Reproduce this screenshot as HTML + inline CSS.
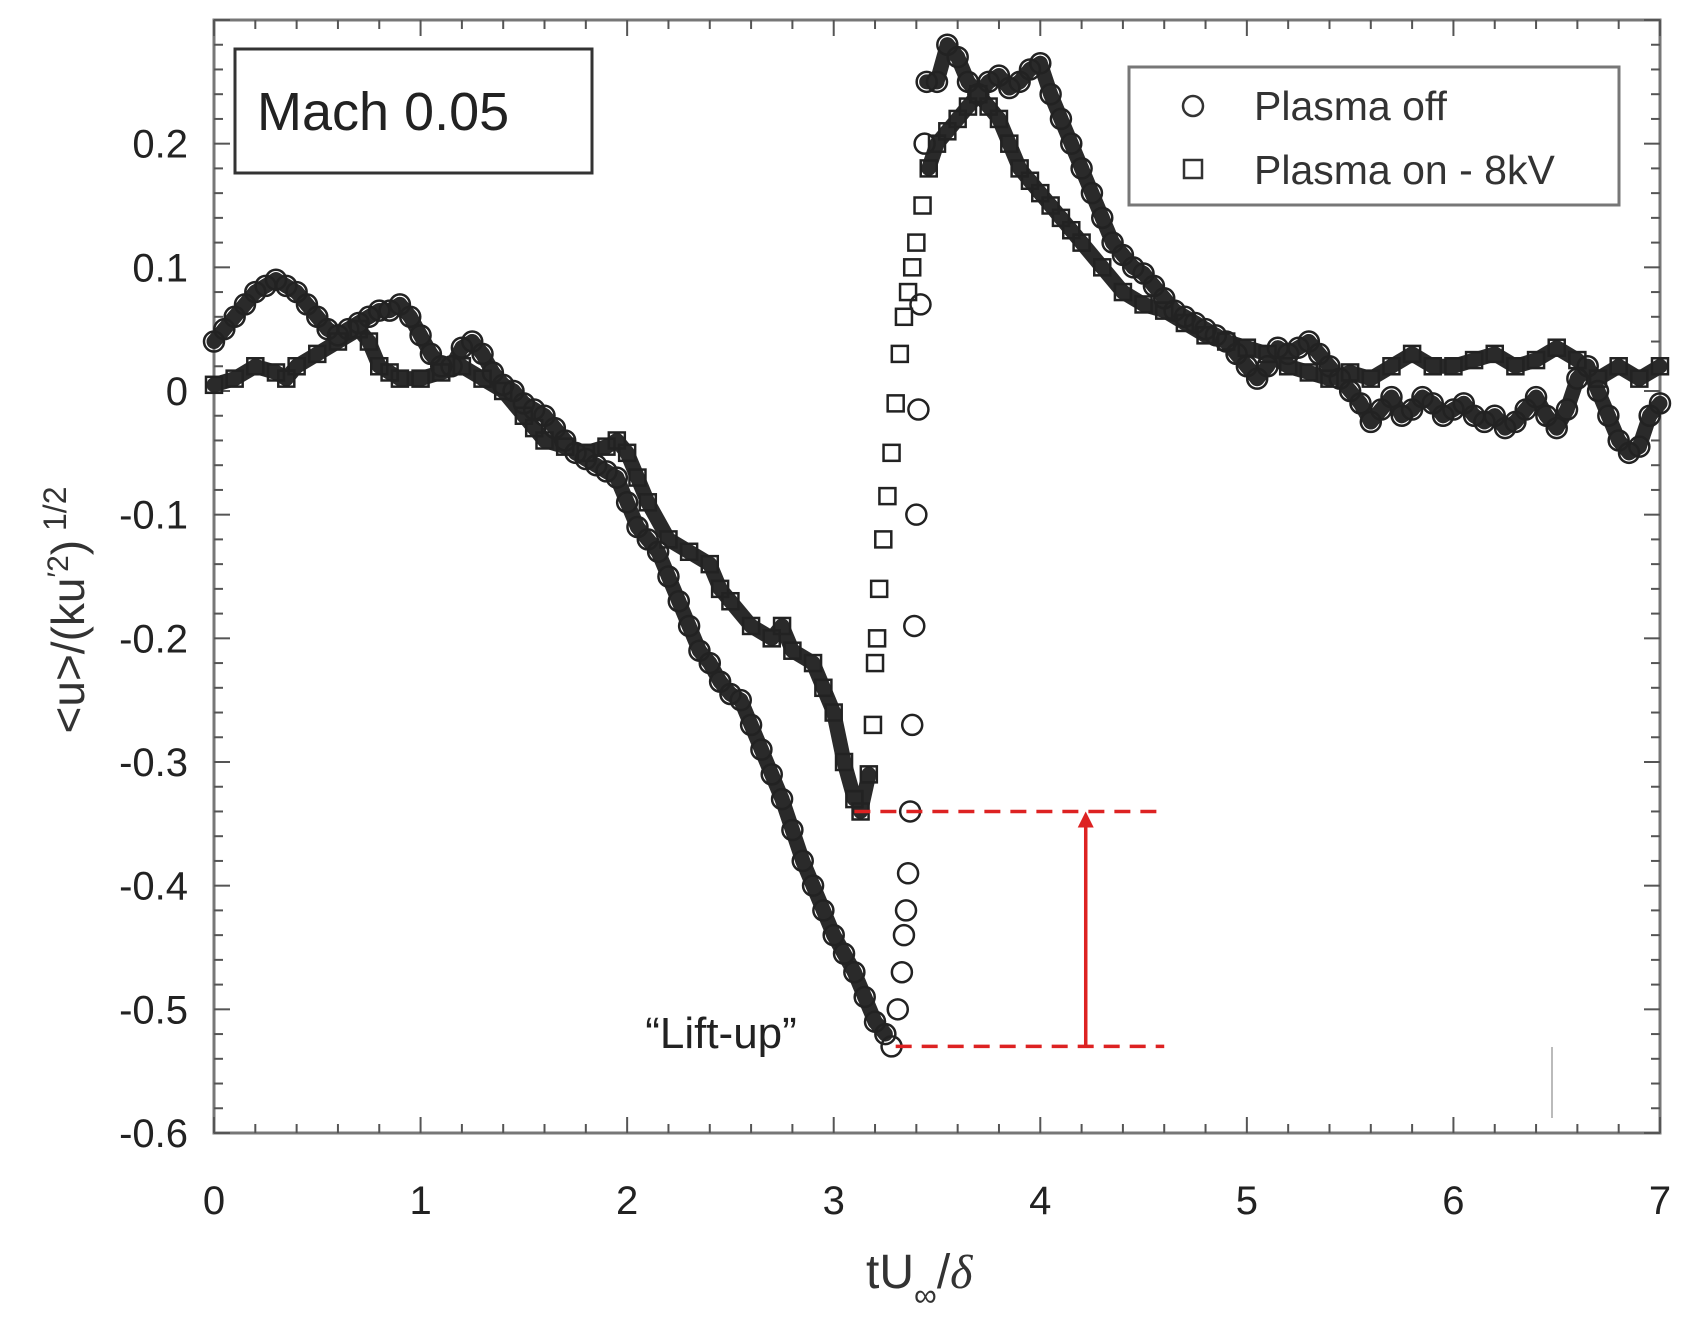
<!DOCTYPE html>
<html><head><meta charset="utf-8"><style>
body{margin:0;background:#fff}
svg{display:block;font-family:"Liberation Sans",Arial,sans-serif}
</style></head><body>
<svg id="chart" width="1687" height="1327"></svg>
<script>
const xTicks=[0,1,2,3,4,5,6,7];
const yTicks=[0.2,0.1,0,-0.1,-0.2,-0.3,-0.4,-0.5,-0.6];
const yTickLabels=["0.2","0.1","0","-0.1","-0.2","-0.3","-0.4","-0.5","-0.6"];
const offX=[0,0.05,0.1,0.15,0.2,0.25,0.3,0.35,0.4,0.45,0.5,0.55,0.6,0.65,0.7,0.75,0.8,0.85,0.9,0.95,1.0,1.05,1.1,1.15,1.2,1.25,1.3,1.35,1.4,1.45,1.5,1.55,1.6,1.65,1.7,1.75,1.8,1.85,1.9,1.95,2.0,2.05,2.1,2.15,2.2,2.25,2.3,2.35,2.4,2.45,2.5,2.55,2.6,2.65,2.7,2.75,2.8,2.85,2.9,2.95,3.0,3.05,3.1,3.15,3.2,3.25,3.28,3.31,3.33,3.34,3.35,3.36,3.37,3.38,3.39,3.4,3.41,3.42,3.44,3.45,3.5,3.55,3.6,3.65,3.7,3.75,3.8,3.85,3.9,3.95,4.0,4.05,4.1,4.15,4.2,4.25,4.3,4.35,4.4,4.45,4.5,4.55,4.6,4.65,4.7,4.75,4.8,4.85,4.9,4.95,5.0,5.05,5.1,5.15,5.2,5.25,5.3,5.35,5.4,5.45,5.5,5.55,5.6,5.65,5.7,5.75,5.8,5.85,5.9,5.95,6.0,6.05,6.1,6.15,6.2,6.25,6.3,6.35,6.4,6.45,6.5,6.55,6.6,6.65,6.7,6.75,6.8,6.85,6.9,6.95,7.0];
const offY=[0.04,0.05,0.06,0.07,0.08,0.085,0.09,0.085,0.08,0.07,0.06,0.05,0.045,0.05,0.055,0.06,0.065,0.065,0.07,0.06,0.045,0.03,0.02,0.02,0.035,0.04,0.03,0.015,0.005,0,-0.01,-0.015,-0.02,-0.03,-0.04,-0.05,-0.055,-0.06,-0.065,-0.07,-0.09,-0.11,-0.12,-0.13,-0.15,-0.17,-0.19,-0.21,-0.22,-0.235,-0.245,-0.25,-0.27,-0.29,-0.31,-0.33,-0.355,-0.38,-0.4,-0.42,-0.44,-0.455,-0.47,-0.49,-0.51,-0.52,-0.53,-0.5,-0.47,-0.44,-0.42,-0.39,-0.34,-0.27,-0.19,-0.1,-0.015,0.07,0.2,0.25,0.25,0.28,0.27,0.25,0.24,0.25,0.255,0.245,0.25,0.26,0.265,0.24,0.22,0.2,0.18,0.16,0.14,0.12,0.11,0.1,0.095,0.085,0.075,0.065,0.06,0.055,0.05,0.045,0.04,0.03,0.02,0.01,0.02,0.035,0.03,0.035,0.04,0.03,0.02,0.01,0,-0.01,-0.025,-0.015,-0.005,-0.02,-0.015,-0.005,-0.01,-0.02,-0.015,-0.01,-0.02,-0.025,-0.02,-0.03,-0.025,-0.015,-0.005,-0.02,-0.03,-0.015,0.01,0.02,0,-0.02,-0.04,-0.05,-0.045,-0.02,-0.01];
const onX=[0,0.1,0.2,0.3,0.35,0.4,0.5,0.6,0.7,0.75,0.8,0.85,0.9,1.0,1.1,1.2,1.3,1.4,1.5,1.55,1.6,1.7,1.8,1.9,1.95,2.0,2.05,2.1,2.2,2.3,2.4,2.45,2.5,2.6,2.7,2.75,2.8,2.9,2.95,3.0,3.05,3.1,3.13,3.17,3.19,3.2,3.21,3.22,3.24,3.26,3.28,3.3,3.32,3.34,3.36,3.38,3.4,3.43,3.46,3.5,3.55,3.6,3.65,3.7,3.75,3.8,3.85,3.9,3.95,4.0,4.05,4.1,4.15,4.2,4.3,4.4,4.5,4.6,4.7,4.8,4.9,5.0,5.1,5.2,5.3,5.4,5.5,5.6,5.7,5.8,5.9,6.0,6.1,6.2,6.3,6.4,6.5,6.6,6.7,6.8,6.9,7.0];
const onY=[0.005,0.01,0.02,0.015,0.01,0.02,0.03,0.04,0.05,0.04,0.02,0.015,0.01,0.01,0.015,0.02,0.01,0,-0.02,-0.03,-0.04,-0.045,-0.05,-0.045,-0.04,-0.05,-0.07,-0.09,-0.12,-0.13,-0.14,-0.16,-0.17,-0.19,-0.2,-0.19,-0.21,-0.22,-0.24,-0.26,-0.3,-0.33,-0.34,-0.31,-0.27,-0.22,-0.2,-0.16,-0.12,-0.085,-0.05,-0.01,0.03,0.06,0.08,0.1,0.12,0.15,0.18,0.2,0.21,0.22,0.23,0.24,0.23,0.22,0.2,0.18,0.17,0.16,0.15,0.14,0.13,0.12,0.1,0.08,0.07,0.065,0.055,0.045,0.04,0.035,0.03,0.02,0.015,0.01,0.015,0.01,0.02,0.03,0.02,0.02,0.025,0.03,0.02,0.025,0.035,0.025,0.01,0.02,0.01,0.02];

const L=214,R=1660,T=20,B=1133,xMin=0,xMax=7,yMin=-0.6,yMax=0.3;
const sx=v=>L+(v-xMin)/(xMax-xMin)*(R-L);
const sy=v=>B-(v-yMin)/(yMax-yMin)*(B-T);
const svg=document.getElementById('chart');
const NS='http://www.w3.org/2000/svg';
function mk(tag,at,parent){const e=document.createElementNS(NS,tag);for(const k in at)e.setAttribute(k,at[k]);(parent||svg).appendChild(e);return e;}

const frame=mk('rect',{x:L,y:T,width:R-L,height:B-T,fill:'none',stroke:'#777','stroke-width':3});


const tg=mk('g',{stroke:'#555','stroke-width':2});


for(let v=0;v<=7.0001;v+=0.2){const X=sx(v);const maj=Math.abs(v-Math.round(v))<1e-6;const len=maj?16:9;
 mk('line',{x1:X,y1:B,x2:X,y2:B-len},tg);mk('line',{x1:X,y1:T,x2:X,y2:T+len},tg);}
for(let i=0;i<=45;i++){const v=-0.6+i*0.02;const Y=sy(v);const maj=i%5===0;const len=maj?16:9;
 mk('line',{x1:L,y1:Y,x2:L+len,y2:Y},tg);mk('line',{x1:R,y1:Y,x2:R-len,y2:Y},tg);}
xTicks.forEach(v=>{const t=mk('text',{x:sx(v),y:1214,'font-size':40,'text-anchor':'middle',fill:'#222'});t.textContent=String(v);
 
 });
yTicks.forEach((v,i)=>{const t=mk('text',{x:188,y:sy(v)+14,'font-size':40,'text-anchor':'end',fill:'#222'});t.textContent=yTickLabels[i];
 
 });
const xt=mk('text',{x:866,y:1288,'font-size':48,fill:'#333'});


xt.innerHTML='tU<tspan font-size="32" dy="18">∞</tspan><tspan dy="-18">/</tspan><tspan font-family="Liberation Serif" font-style="italic">δ</tspan>';
const yt=mk('text',{x:0,y:0,'font-size':46,fill:'#333','text-anchor':'middle',transform:'translate(84,610) rotate(-90)'});


yt.innerHTML='&lt;u&gt;/(ku<tspan font-size="30" dy="-16">\u20322</tspan><tspan dy="16">)</tspan><tspan font-size="32" dy="-18"> 1/2</tspan>';

function band(xs,ys,name){const g=mk('g',{stroke:'#2a2a2a','stroke-width':15,'stroke-linecap':'round',fill:'none'});
 
 
 for(let i=1;i<xs.length;i++){if(xs[i]-xs[i-1]<0.035)continue;
  const x1=sx(xs[i-1]),x2=sx(xs[i]),y1=sy(ys[i-1]),y2=sy(ys[i]);
  if(i>=2&&xs[i-1]-xs[i-2]<0.035&&Math.abs(y2-y1)>60)continue;
  mk('line',{x1:x1,y1:y1,x2:x2,y2:y2},g);}}
band(onX,onY,'plasma-on-band');
band(offX,offY,'plasma-off-band');
const gOn=mk('g',{fill:'none',stroke:'#222','stroke-width':2.5});


onX.forEach((x,i)=>{const r=mk('rect',{x:sx(x)-8,y:sy(onY[i])-8,width:16,height:16},gOn);
 
 });
const gOff=mk('g',{fill:'none',stroke:'#222','stroke-width':2.5});


offX.forEach((x,i)=>{const c=mk('circle',{cx:sx(x),cy:sy(offY[i]),r:10},gOff);
 
 });

const ag=mk('g',{stroke:'#d22','stroke-width':3.5,fill:'none'});


mk('line',{x1:sx(3.1),y1:sy(-0.34),x2:sx(4.6),y2:sy(-0.34),'stroke-dasharray':'16 10'},ag);
mk('line',{x1:sx(3.3),y1:sy(-0.53),x2:sx(4.6),y2:sy(-0.53),'stroke-dasharray':'16 10'},ag);
mk('line',{x1:sx(4.22),y1:sy(-0.53),x2:sx(4.22),y2:sy(-0.34)+14},ag);
mk('polygon',{points:`${sx(4.22)-8},${sy(-0.34)+16} ${sx(4.22)+8},${sy(-0.34)+16} ${sx(4.22)},${sy(-0.34)}`,fill:'#d22',stroke:'none'},ag);
const lt=mk('text',{x:721,y:1048,'font-size':44,'text-anchor':'middle',fill:'#222'});lt.textContent='\u201cLift-up\u201d';


const gl=mk('line',{x1:1552,y1:1047,x2:1552,y2:1118,stroke:'#bbb','stroke-width':2});



const mb=mk('rect',{x:235,y:49,width:357,height:124,fill:'#fff',stroke:'#333','stroke-width':3});


const mt=mk('text',{x:257,y:130,'font-size':54,fill:'#222'});mt.textContent='Mach 0.05';


const lg=mk('g',{});


mk('rect',{x:1129,y:67,width:490,height:138,fill:'#fff',stroke:'#777','stroke-width':3},lg);
mk('circle',{cx:1193,cy:106,r:10,fill:'none',stroke:'#333','stroke-width':2.5},lg);
mk('rect',{x:1184,y:160,width:18,height:18,fill:'none',stroke:'#333','stroke-width':2.5},lg);
const l1=mk('text',{x:1254,y:120,'font-size':41,fill:'#333'},lg);l1.textContent='Plasma off';


const l2=mk('text',{x:1254,y:184,'font-size':41,fill:'#333'},lg);l2.textContent='Plasma on - 8kV';


</script>
</body></html>
